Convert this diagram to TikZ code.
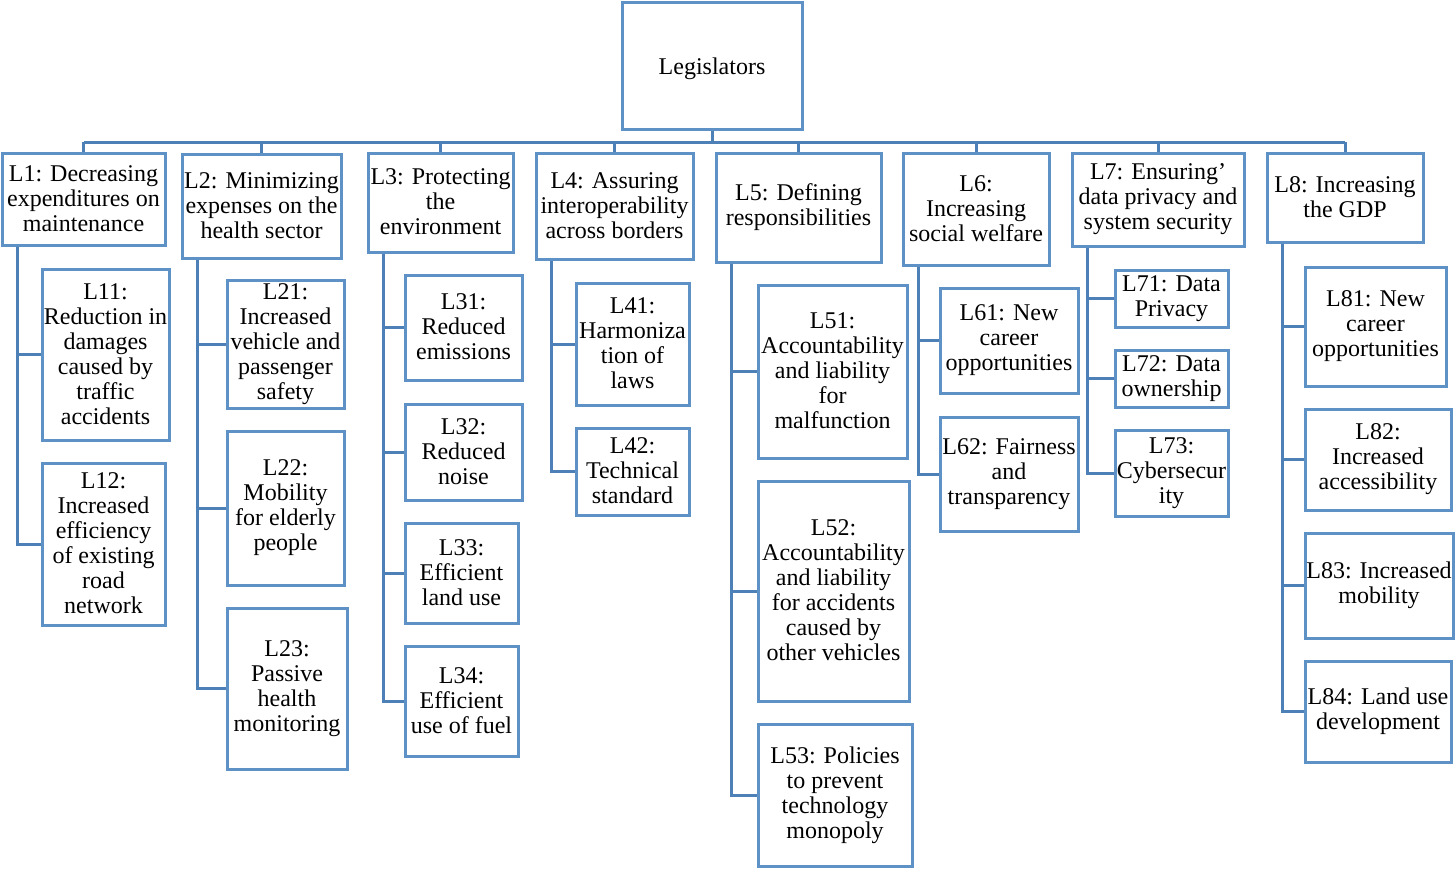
\documentclass[tikz,border=0pt]{standalone}
\usepackage{fontspec}
\setmainfont{Liberation Serif}
\definecolor{boxc}{RGB}{94,145,198}
\definecolor{linec}{RGB}{76,128,182}
\begin{document}
\begin{tikzpicture}[x=1pt,y=-1pt,
  bx/.style={draw=boxc, line width=3pt, fill=white, rectangle, inner sep=0pt, align=center,
    font=\fontsize{24}{25}\selectfont,
    execute at begin node={\rule{0pt}{23.5pt}},
    execute at end node={\rule[-1.5pt]{0pt}{1.5pt}}},
  conn/.style={draw=linec, line width=3pt, line join=miter}]
\useasboundingbox (0,0) rectangle (1455,868);
\coordinate (bus) at (0,142);
% Root
\node[bx, minimum width=180, minimum height=127] (Leg) at (712,65.5) {Legislators};
% Level 1
\node[bx, minimum width=163, minimum height=92]  (L1) at (83.5,199) {L1: Decreasing\\expenditures on\\maintenance};
\node[bx, minimum width=159, minimum height=104] (L2) at (261.5,206) {L2: Minimizing\\expenses on the\\health sector};
\node[bx, minimum width=145, minimum height=99]  (L3) at (440.5,202.5) {L3: Protecting\\the\\environment};
\node[bx, minimum width=157, minimum height=106] (L4) at (614.5,206) {L4: Assuring\\interoperability\\across borders};
\node[bx, minimum width=165, minimum height=109] (L5) at (798.5,207.5) {L5: Defining\\responsibilities};
\node[bx, minimum width=146, minimum height=112] (L6) at (976,209) {L6:\\Increasing\\social welfare};
\node[bx, minimum width=172, minimum height=93]  (L7) at (1158,199.5) {L7: Ensuring’\\data privacy and\\system security};
\node[bx, minimum width=156, minimum height=89]  (L8) at (1345,197.5) {L8: Increasing\\the GDP};
% Level 2
\node[bx, minimum width=127, minimum height=171] (L11) at (105.5,354.5) {L11:\\Reduction in\\damages\\caused by\\traffic\\accidents};
\node[bx, minimum width=123, minimum height=162] (L12) at (103.5,544) {L12:\\Increased\\efficiency\\of existing\\road\\network};
\node[bx, minimum width=117, minimum height=128] (L21) at (285.5,344) {L21:\\Increased\\vehicle and\\passenger\\safety};
\node[bx, minimum width=117, minimum height=154] (L22) at (285.5,508) {L22:\\Mobility\\for elderly\\people};
\node[bx, minimum width=120, minimum height=161] (L23) at (287,688.5) {L23:\\Passive\\health\\monitoring};
\node[bx, minimum width=117, minimum height=105] (L31) at (463.5,327.5) {L31:\\Reduced\\emissions};
\node[bx, minimum width=117, minimum height=96]  (L32) at (463.5,452) {L32:\\Reduced\\noise};
\node[bx, minimum width=113, minimum height=100] (L33) at (461.5,573) {L33:\\Efficient\\land use};
\node[bx, minimum width=113, minimum height=110] (L34) at (461.5,701) {L34:\\Efficient\\use of fuel};
\node[bx, minimum width=113, minimum height=122] (L41) at (632.5,344) {L41:\\Harmoniza\\tion of\\laws};
\node[bx, minimum width=113, minimum height=87]  (L42) at (632.5,471.5) {L42:\\Technical\\standard};
\node[bx, minimum width=149, minimum height=173] (L51) at (832.5,371.5) {L51:\\Accountability\\and liability\\for\\malfunction};
\node[bx, minimum width=151, minimum height=220] (L52) at (833.5,591) {L52:\\Accountability\\and liability\\for accidents\\caused by\\other vehicles};
\node[bx, minimum width=154, minimum height=142] (L53) at (835,795) {L53: Policies\\to prevent\\technology\\monopoly};
\node[bx, minimum width=138, minimum height=105] (L61) at (1009,340.5) {L61: New\\career\\opportunities};
\node[bx, minimum width=138, minimum height=114] (L62) at (1009,474) {L62: Fairness\\and\\transparency};
\node[bx, minimum width=113, minimum height=57]  (L71) at (1171.5,298.5) {L71: Data\\Privacy};
\node[bx, minimum width=113, minimum height=57]  (L72) at (1171.5,378.5) {L72: Data\\ownership};
\node[bx, minimum width=113, minimum height=86]  (L73) at (1171.5,473) {L73:\\Cybersecur\\ity};
\node[bx, minimum width=141, minimum height=119] (L81) at (1375.5,326.5) {L81: New\\career\\opportunities};
\node[bx, minimum width=146, minimum height=101] (L82) at (1378,459.5) {L82:\\Increased\\accessibility};
\node[bx, minimum width=148, minimum height=105] (L83) at (1379,585.5) {L83: Increased\\mobility};
\node[bx, minimum width=146, minimum height=101] (L84) at (1378,711.5) {L84: Land use\\development};
% Connectors
\draw[conn] (Leg.south) -- (Leg.south |- bus);
\draw[conn] (L1.north |- bus) -- (L8.north |- bus);
\foreach \n in {L1,L2,L3,L4,L5,L6,L7,L8}{
  \draw[conn] (\n.north |- bus) -- (\n.north);
}
\foreach \p/\c in {L1/L11,L1/L12,L2/L21,L2/L22,L2/L23,L3/L31,L3/L32,L3/L33,L3/L34,
                   L4/L41,L4/L42,L5/L51,L5/L52,L5/L53,L6/L61,L6/L62,
                   L7/L71,L7/L72,L7/L73,L8/L81,L8/L82,L8/L83,L8/L84}{
  \draw[conn] ([xshift=16.5pt]\p.south west) |- (\c.west);
}
\end{tikzpicture}
\end{document}
